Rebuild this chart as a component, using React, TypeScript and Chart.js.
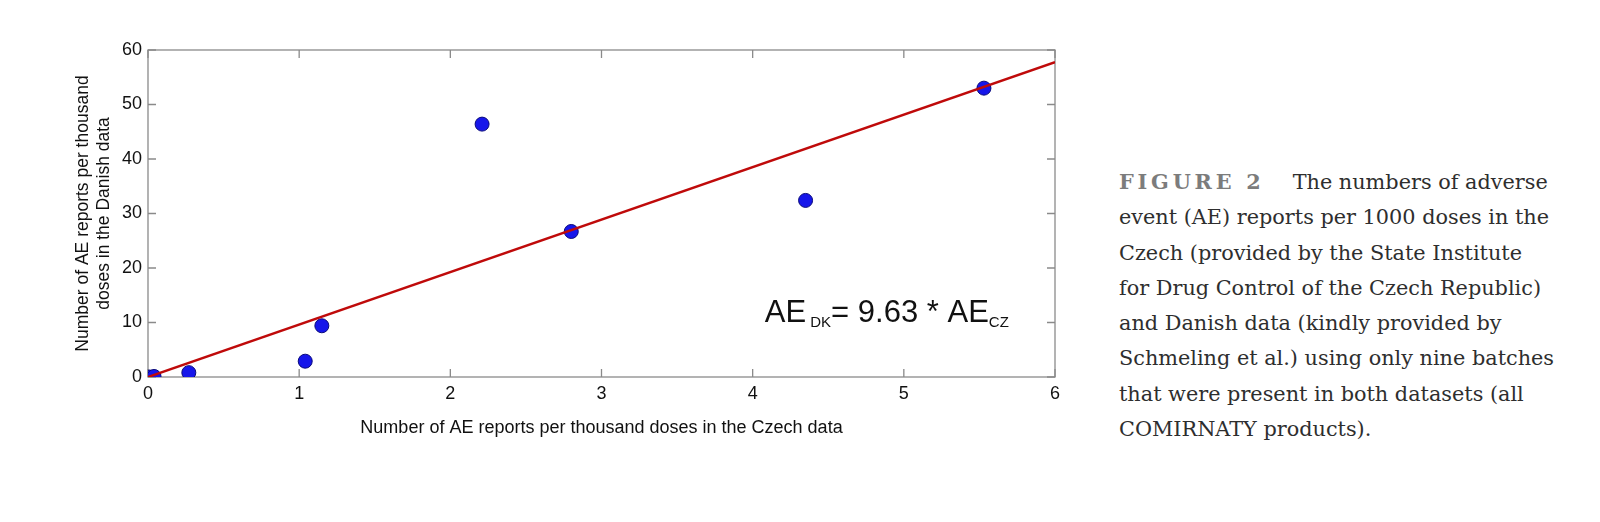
import React, { useEffect, useRef } from "react";
import { Chart, registerables } from "chart.js";

Chart.register(...registerables);

// ---- data ----
const czechRate = [0.01, 0.04, 0.27, 1.04, 1.15, 2.21, 2.8, 4.35, 5.53];
const danishRate = [0.0, 0.1, 0.8, 2.9, 9.4, 46.4, 26.7, 32.4, 53.0];
const fitX = [0, 6];
const fitY = [0, 57.78];
const xTicks = [0, 1, 2, 3, 4, 5, 6];
const yTicks = [0, 10, 20, 30, 40, 50, 60];
const xTitle = "Number of AE reports per thousand doses in the Czech data";
const yTitle = ["Number of AE reports per thousand", "doses in the Danish data"];
const annotParts = [
  { text: "AE", sub: false },
  { text: " DK", sub: true },
  { text: "= 9.63 * AE", sub: false },
  { text: "CZ", sub: true },
];
const annotAt = { x: 4.08, y: 10.1 };
const captionLead = "FIGURE 2";
const captionLines = [
  "The numbers of adverse",
  "event (AE) reports per 1000 doses in the",
  "Czech (provided by the State Institute",
  "for Drug Control of the Czech Republic)",
  "and Danish data (kindly provided by",
  "Schmeling et al.) using only nine batches",
  "that were present in both datasets (all",
  "COMIRNATY products).",
];

const SANS = "'Liberation Sans', Arial, sans-serif";

const framePlugin = {
  id: "matlabFrame",
  beforeDatasetsDraw(chart: any) {
    const { ctx, chartArea: a, scales } = chart;
    ctx.save();
    ctx.strokeStyle = "#8a8a8a";
    ctx.lineWidth = 1.3;
    ctx.strokeRect(a.left, a.top, a.right - a.left, a.bottom - a.top);
    const L = 8;
    ctx.beginPath();
    scales.x.ticks.forEach((t: any) => {
      const px = scales.x.getPixelForValue(t.value);
      ctx.moveTo(px, a.bottom);
      ctx.lineTo(px, a.bottom - L);
      ctx.moveTo(px, a.top);
      ctx.lineTo(px, a.top + L);
    });
    scales.y.ticks.forEach((t: any) => {
      const py = scales.y.getPixelForValue(t.value);
      ctx.moveTo(a.left, py);
      ctx.lineTo(a.left + L, py);
      ctx.moveTo(a.right, py);
      ctx.lineTo(a.right - L, py);
    });
    ctx.stroke();
    ctx.restore();
  },
  afterDatasetsDraw(chart: any) {
    const { ctx, scales } = chart;
    let x = scales.x.getPixelForValue(annotAt.x);
    const y = scales.y.getPixelForValue(annotAt.y);
    ctx.save();
    ctx.fillStyle = "#111";
    ctx.textAlign = "left";
    ctx.textBaseline = "alphabetic";
    annotParts.forEach((p) => {
      ctx.font = p.sub ? `15px ${SANS}` : `31px ${SANS}`;
      ctx.fillText(p.text, x, p.sub ? y + 5 : y);
      x += ctx.measureText(p.text).width;
    });
    ctx.restore();
  },
};

function ScatterChart() {
  const ref = useRef<HTMLCanvasElement | null>(null);
  useEffect(() => {
    if (!ref.current) return;
    const chart = new Chart(ref.current, {
      type: "scatter",
      data: {
        datasets: [
          {
            type: "line",
            data: fitX.map((x, i) => ({ x, y: fitY[i] })),
            borderColor: "#bf0a0a",
            borderWidth: 2.5,
            pointRadius: 0,
            fill: false,
          } as any,
          {
            type: "scatter",
            data: czechRate.map((x, i) => ({ x, y: danishRate[i] })),
            backgroundColor: "#1616ea",
            borderColor: "#0a0a7a",
            borderWidth: 1,
            pointRadius: 7,
            pointHoverRadius: 7,
          },
        ],
      },
      options: {
        animation: false,
        responsive: true,
        maintainAspectRatio: false,
        events: [],
        layout: { padding: { left: 65, right: 23, top: 42, bottom: 29 } },
        plugins: { legend: { display: false }, tooltip: { enabled: false } },
        scales: {
          x: {
            type: "linear",
            min: 0,
            max: 6,
            afterBuildTicks: (s: any) => {
              s.ticks = xTicks.map((v) => ({ value: v }));
            },
            afterFit: (s: any) => {
              s.height = 62;
            },
            grid: { display: false, drawTicks: false, tickLength: 0 },
            border: { display: false },
            ticks: {
              padding: 6,
              color: "#111",
              font: { family: SANS, size: 18 },
              maxRotation: 0,
            },
            title: {
              display: true,
              text: xTitle,
              color: "#111",
              font: { family: SANS, size: 18 },
              padding: { top: 0, bottom: 0 },
            },
          },
          y: {
            type: "linear",
            min: 0,
            max: 60,
            afterBuildTicks: (s: any) => {
              s.ticks = yTicks.map((v) => ({ value: v }));
            },
            afterFit: (s: any) => {
              s.width = 75;
            },
            grid: { display: false, drawTicks: false, tickLength: 0 },
            border: { display: false },
            ticks: {
              padding: 6,
              color: "#111",
              font: { family: SANS, size: 18 },
            },
            title: {
              display: true,
              text: yTitle,
              color: "#111",
              font: { family: SANS, size: 17.5 },
              padding: { top: 0, bottom: 0 },
            },
          },
        },
      },
      plugins: [framePlugin],
    });
    return () => chart.destroy();
  }, []);
  return <canvas ref={ref} />;
}

export default function App() {
  return (
    <div style={{ position: "relative", width: 1584, height: 506, background: "#fff" }}>
      <div style={{ position: "absolute", left: 0, top: 0, width: 1070, height: 460 }}>
        <ScatterChart />
      </div>
      <div
        style={{
          position: "absolute",
          left: 1111,
          top: 156,
          fontFamily: "'DejaVu Serif', serif",
          fontSize: 20.8,
          lineHeight: "35.3px",
          color: "#2e2e2e",
          whiteSpace: "nowrap",
        }}
      >
        {captionLines.map((line, i) => (
          <div key={i}>
            {i === 0 && (
              <span
                style={{
                  fontWeight: "bold",
                  color: "#7c7c7c",
                  letterSpacing: "3.8px",
                  marginRight: 28,
                }}
              >
                {captionLead}
              </span>
            )}
            {line}
          </div>
        ))}
      </div>
    </div>
  );
}
